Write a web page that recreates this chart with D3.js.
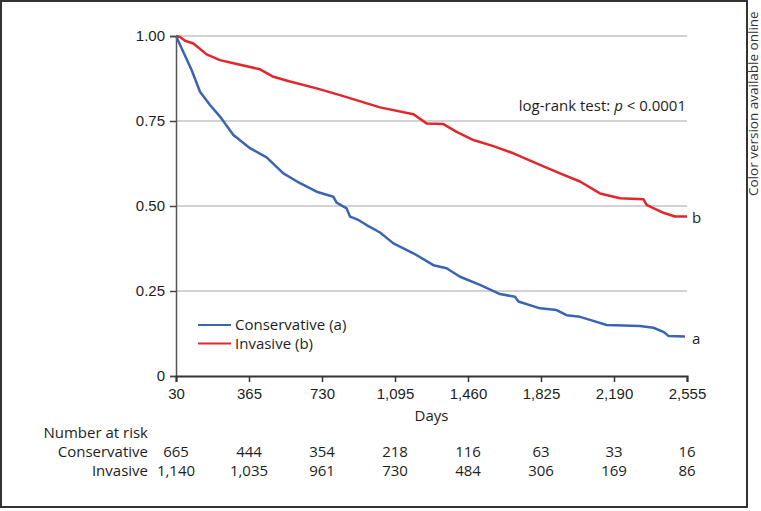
<!DOCTYPE html>
<html>
<head>
<meta charset="utf-8">
<script src="https://cdn.jsdelivr.net/npm/d3@7"></script>
<style>
  html, body { margin: 0; padding: 0; background: #fff; }
  svg { display: block; font-family: "Open Sans", "Noto Sans", sans-serif; }
</style>
</head>
<body>
<svg id="chart" width="761" height="511"></svg>
<script>
// ---- data ----
const xTickPos = [0, 365, 730, 1095, 1460, 1825, 2190, 2555];
const xTickLabels = ["30", "365", "730", "1,095", "1,460", "1,825", "2,190", "2,555"];
const yTicks = [0, 0.25, 0.5, 0.75, 1.0];
const yTickLabels = ["0", "0.25", "0.50", "0.75", "1.00"];

const conservativeDays = [0, 28, 78, 120, 170, 220, 287, 370, 453, 537, 620, 703, 787, 803, 853, 870, 912, 953, 1020, 1087, 1187, 1287, 1353, 1420, 1520, 1620, 1695, 1712, 1820, 1903, 1953, 2020, 2070, 2153, 2320, 2387, 2437, 2462, 2545];
const conservativeSurv = [1.0, 0.964, 0.900, 0.836, 0.797, 0.763, 0.709, 0.670, 0.643, 0.596, 0.567, 0.542, 0.527, 0.510, 0.493, 0.469, 0.459, 0.444, 0.422, 0.390, 0.361, 0.326, 0.317, 0.292, 0.268, 0.241, 0.233, 0.219, 0.199, 0.194, 0.179, 0.174, 0.165, 0.150, 0.147, 0.142, 0.130, 0.118, 0.116];

const invasiveDays = [0, 20, 45, 87, 153, 220, 287, 420, 487, 570, 703, 820, 1020, 1187, 1253, 1337, 1403, 1487, 1587, 1687, 1820, 1920, 2020, 2120, 2220, 2337, 2353, 2437, 2495, 2555];
const invasiveSurv = [1.0, 0.997, 0.986, 0.978, 0.946, 0.929, 0.920, 0.902, 0.880, 0.866, 0.846, 0.826, 0.790, 0.770, 0.743, 0.741, 0.718, 0.694, 0.676, 0.655, 0.621, 0.596, 0.572, 0.537, 0.523, 0.520, 0.503, 0.480, 0.469, 0.469];

const riskConservative = ["665", "444", "354", "218", "116", "63", "33", "16"];
const riskInvasive = ["1,140", "1,035", "961", "730", "484", "306", "169", "86"];

const seriesNames = ["Conservative (a)", "Invasive (b)"];
const seriesColors = ["#3b64b3", "#e3262b"];

// ---- layout ----
const svg = d3.select("#chart");
const x = d3.scaleLinear().domain([0, 2555]).range([176, 687]);
const y = d3.scaleLinear().domain([0, 1]).range([376, 36]);
const textColor = "#1e1e1e";
const fs = 15;

// frame
svg.append("rect").attr("x", 1).attr("y", 1).attr("width", 746).attr("height", 506)
  .attr("fill", "none").attr("stroke", "#333").attr("stroke-width", 2);

// side note
svg.append("text")
  .attr("transform", "translate(758,196) rotate(-90)")
  .attr("font-size", 13.5).attr("fill", "#333")
  .text("Color version available online");

// gridlines
svg.append("g").selectAll("line").data(yTicks.filter(d => d > 0)).join("line")
  .attr("x1", x(0)).attr("x2", x(2555))
  .attr("y1", d => y(d)).attr("y2", d => y(d))
  .attr("stroke", "#a6a6a6").attr("stroke-width", 1.2);

// y axis
const yAxis = d3.axisLeft(y).tickValues(yTicks)
  .tickFormat((d, i) => yTickLabels[i]).tickSize(6).tickPadding(5);
const gy = svg.append("g").attr("transform", `translate(${x(0)},0)`).call(yAxis);
gy.select(".domain").attr("stroke", "#555").attr("stroke-width", 1.5);
gy.selectAll(".tick line").attr("stroke", "#444").attr("stroke-width", 1.5);
gy.selectAll(".tick text").attr("font-size", fs).attr("fill", textColor).attr("font-family", null);

// x axis
const xAxis = d3.axisBottom(x).tickValues(xTickPos)
  .tickFormat((d, i) => xTickLabels[i]).tickSize(6).tickPadding(6);
const gx = svg.append("g").attr("transform", `translate(0,${y(0)})`).call(xAxis);
gx.select(".domain").attr("stroke", "#333").attr("stroke-width", 2);
gx.selectAll(".tick line").attr("stroke", "#333").attr("stroke-width", 1.5);
gx.selectAll(".tick text").attr("font-size", fs).attr("fill", textColor).attr("font-family", null);

svg.append("text").attr("x", (x(0) + x(2555)) / 2).attr("y", 421)
  .attr("text-anchor", "middle").attr("font-size", fs).attr("fill", textColor).text("Days");

// curves
const line = d3.line().x(d => x(d[0])).y(d => y(d[1])).curve(d3.curveLinear);
const cons = conservativeDays.map((d, i) => [d, conservativeSurv[i]]);
const inv = invasiveDays.map((d, i) => [d, invasiveSurv[i]]);
svg.append("path").attr("d", line(inv)).attr("fill", "none")
  .attr("stroke", seriesColors[1]).attr("stroke-width", 2.5).attr("stroke-linejoin", "round");
svg.append("path").attr("d", line(cons)).attr("fill", "none")
  .attr("stroke", seriesColors[0]).attr("stroke-width", 2.5).attr("stroke-linejoin", "round");

// end labels
svg.append("text").attr("x", 692).attr("y", 223).attr("font-size", fs).attr("fill", textColor).text("b");
svg.append("text").attr("x", 692).attr("y", 344).attr("font-size", fs).attr("fill", textColor).text("a");

// log-rank annotation
const lr = svg.append("text").attr("x", 686).attr("y", 111).attr("text-anchor", "end")
  .attr("font-size", fs).attr("fill", textColor);
lr.append("tspan").text("log-rank test: ");
lr.append("tspan").attr("font-style", "italic").text("p");
lr.append("tspan").text(" < 0.0001");

// legend
const leg = svg.append("g");
seriesNames.forEach((name, i) => {
  const yy = 325 + i * 18.5;
  leg.append("line").attr("x1", 198).attr("x2", 231).attr("y1", yy).attr("y2", yy)
    .attr("stroke", seriesColors[i]).attr("stroke-width", 2);
  leg.append("text").attr("x", 235).attr("y", yy + 5).attr("font-size", fs)
    .attr("fill", textColor).text(name);
});

// number at risk table
svg.append("text").attr("x", 148).attr("y", 438).attr("text-anchor", "end")
  .attr("font-size", fs).attr("fill", textColor).text("Number at risk");
const rows = [["Conservative", riskConservative, 457], ["Invasive", riskInvasive, 476]];
rows.forEach(([label, vals, yy]) => {
  svg.append("text").attr("x", 148).attr("y", yy).attr("text-anchor", "end")
    .attr("font-size", fs).attr("fill", textColor).text(label);
  svg.append("g").selectAll("text").data(vals).join("text")
    .attr("x", (d, i) => x(xTickPos[i])).attr("y", yy).attr("text-anchor", "middle")
    .attr("font-size", fs).attr("fill", textColor).text(d => d);
});
</script>
</body>
</html>
